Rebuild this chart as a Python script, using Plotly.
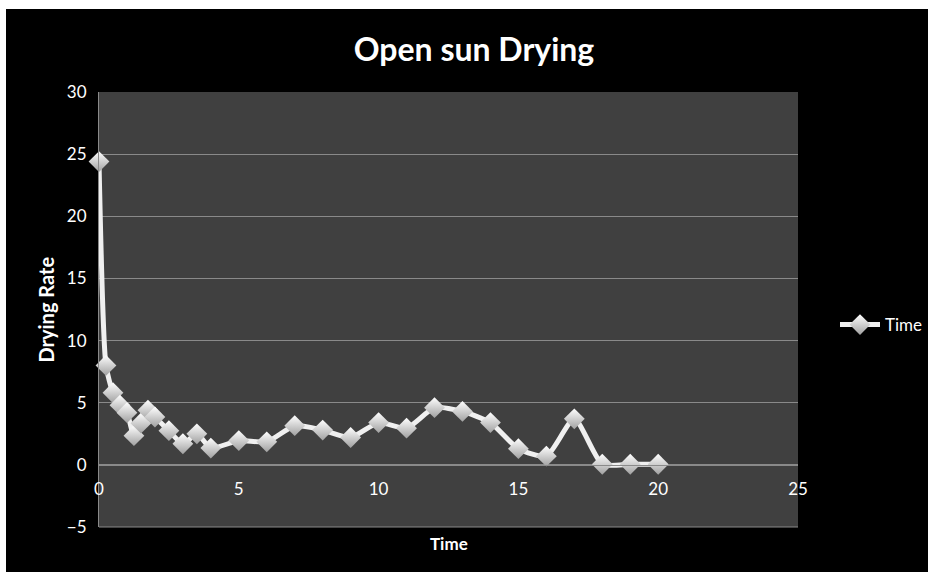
import plotly.graph_objects as go

# Drying measurements
time_h = [0, 0.25, 0.5, 0.75, 1, 1.25, 1.5, 1.75, 2, 2.5, 3, 3.5, 4, 5, 6, 7, 8, 9,
          10, 11, 12, 13, 14, 15, 16, 17, 18, 19, 20]
drying_rate = [24.4, 8.0, 5.8, 4.8, 4.2, 2.35, 3.35, 4.4, 3.85, 2.75, 1.7, 2.5, 1.35,
               1.95, 1.85, 3.15, 2.8, 2.2, 3.4, 2.95, 4.6, 4.3, 3.4, 1.3, 0.7, 3.7,
               0.05, 0.05, 0.05]
series_name = "Time"
chart_title = "Open sun Drying"
x_title = "Time"
y_title = "Drying Rate"

FONT = "Lato, 'Open Sans', sans-serif"

W, H = 928, 572
L, R, T, B = 99, 130, 92, 45
pw, ph = W - L - R, H - T - B


def px_x(p):
    return (p - L) / pw


def px_y(p):
    return (H - B - p) / ph


fig = go.Figure()
fig.add_trace(go.Scatter(
    x=time_h, y=drying_rate, name=series_name,
    mode="lines+markers", cliponaxis=False,
    line=dict(color="#f0f0f0", width=5, shape="spline", smoothing=0.6),
    marker=dict(symbol="diamond", size=16, color="#ffffff",
                gradient=dict(type="vertical", color="#a0a0a0"),
                line=dict(width=0)),
))

fig.update_layout(
    width=W, height=H,
    margin=dict(l=L, r=R, t=T, b=B, autoexpand=False),
    paper_bgcolor="#000000",
    plot_bgcolor="#404040",
    font=dict(family=FONT, color="#ffffff", size=15),
    title=dict(text=f"<b>{chart_title}</b>", x=474 / W, xanchor="center",
               y=1 - 50 / H, yanchor="middle",
               font=dict(family=FONT, size=32, color="#ffffff")),
    showlegend=True,
    legend=dict(x=px_x(835), y=px_y(325), xanchor="left", yanchor="middle",
                bgcolor="rgba(0,0,0,0)", font=dict(size=17, color="#ffffff"),
                itemwidth=40),
    xaxis=dict(range=[0, 25], tickvals=[0, 5, 10, 15, 20, 25],
               showgrid=False, zeroline=False,
               anchor="free", position=5 / 35,
               showline=True, linecolor="#8a8a8a", linewidth=1,
               ticks="outside", ticklen=9, tickcolor="rgba(0,0,0,0)",
               tickfont=dict(size=17, color="#ffffff")),
    yaxis=dict(range=[-5, 30], tickvals=[-5, 0, 5, 10, 15, 20, 25, 30],
               showgrid=True, gridcolor="#8a8a8a", gridwidth=1,
               zeroline=False,
               showline=True, linecolor="#8a8a8a", linewidth=1,
               ticks="outside", ticklen=8, tickcolor="rgba(0,0,0,0)",
               tickfont=dict(size=17, color="#ffffff")),
    shapes=[
        # white page margin above and to the left of the chart panel
        dict(type="rect", xref="paper", yref="paper", x0=px_x(0), x1=px_x(W + 5),
             y0=px_y(9), y1=px_y(-5), fillcolor="#ffffff", line=dict(width=0)),
        dict(type="rect", xref="paper", yref="paper", x0=px_x(-5), x1=px_x(6),
             y0=px_y(H + 5), y1=px_y(-5), fillcolor="#ffffff", line=dict(width=0)),
        # bottom edge of the plot area
        dict(type="line", xref="paper", yref="paper", x0=0, x1=1, y0=0, y1=0,
             line=dict(color="#8a8a8a", width=1)),
    ],
    annotations=[
        dict(text=f"<b>{x_title}</b>", xref="paper", yref="paper",
             x=0.5, y=px_y(543), xanchor="center", yanchor="middle",
             showarrow=False, font=dict(size=17, color="#ffffff")),
        dict(text=f"<b>{y_title}</b>", xref="paper", yref="paper",
             x=px_x(45), y=0.5, xanchor="center", yanchor="middle",
             textangle=-90, showarrow=False,
             font=dict(size=20, color="#ffffff")),
    ],
)

fig.write_html("out.html")
